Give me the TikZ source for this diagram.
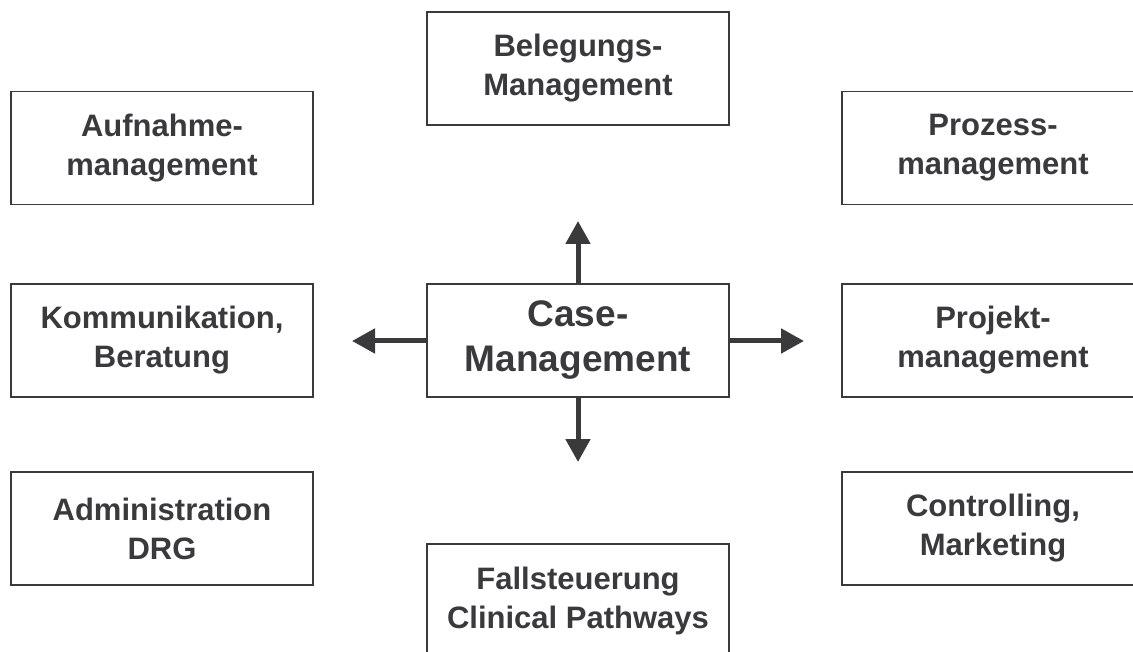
\documentclass[tikz,border=0pt]{standalone}
\usepackage{fontspec}
\setmainfont{Liberation Sans}
\usetikzlibrary{arrows.meta}
\definecolor{ink}{HTML}{3A3A3C}
\tikzset{
  box/.style={draw=ink, line width=1.4pt, fill=white, minimum width=302pt, minimum height=113pt,
    inner sep=0pt, align=center, text=ink, font=\fontsize{31}{39}\selectfont\bfseries},
  bigbox/.style={box, font=\fontsize{37}{45}\selectfont\bfseries},
  arr/.style={draw=ink, line width=5pt, -{Triangle[width=24pt,length=23pt]}}
}
\begin{document}
\begin{tikzpicture}[x=1pt,y=-1pt]
\useasboundingbox (0,0) rectangle (1133,652);
\begin{scope}
\clip (0,0) rectangle (1133,652);
\node[box] (beleg) at (578,68.5) {Belegungs-\\Management};
\node[box] (aufn) at (162,148) {Aufnahme-\\management};
\node[box] (proz) at (993,148) {Prozess-\\management};
\node[bigbox] (case) at (578,340.5) {Case-\\Management};
\node[box] (komm) at (162,340.5) {Kommunikation,\\Beratung};
\node[box] (proj) at (993,340.5) {Projekt-\\management};
\node[box] (admin) at (162,528.5) {Administration\\DRG};
\node[box] (contr) at (993,528.5) {Controlling,\\Marketing};
\node[box] (fall) at (578,600.5) {Fallsteuerung\\Clinical Pathways};
\end{scope}
\coordinate (tup) at (578,221);
\coordinate (tdown) at (578,462);
\coordinate (tleft) at (352,341);
\coordinate (tright) at (804,341);
\draw[arr] (case.north) -- (tup);
\draw[arr] (case.south) -- (tdown);
\draw[arr] (case.west |- tleft) -- (tleft);
\draw[arr] (case.east |- tright) -- (tright);
\end{tikzpicture}
\end{document}
